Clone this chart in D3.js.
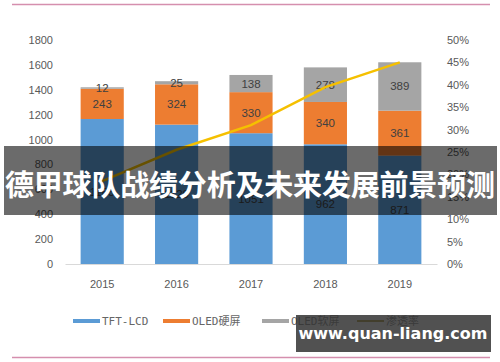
<!DOCTYPE html>
<html>
<head>
<meta charset="utf-8">
<script src="https://cdn.jsdelivr.net/npm/d3@7"></script>
<style>
  body { margin: 0; background: #fff; }
  svg { display: block; font-family: "Liberation Sans", Arial, sans-serif; }
</style>
</head>
<body>
<div id="chart"></div>
<script>
// data
let years = ['2015', '2016', '2017', '2018', '2019'];
let tftLcd = [1165, 1120, 1051, 962, 871];
let oledHard = [243, 324, 330, 340, 361];
let oledSoft = [12, 25, 138, 278, 389];
let rate = [18.5, 25.5, 31, 39.5, 45];
let leftTicks = [0, 200, 400, 600, 800, 1000, 1200, 1400, 1600, 1800];
let rightTicks = [0, 5, 10, 15, 20, 25, 30, 35, 40, 45, 50];
let seriesNames = ['TFT-LCD', 'OLED硬屏', 'OLED软屏', '渗透率'];
let bannerText = '德甲球队战绩分析及未来发展前景预测';
let watermark = 'www.quan-liang.com';

let w = 500;
let h = 362;
let colors = ['#5b9bd5', '#ed7d31', '#a5a5a5'];
let lineColor = '#f5c000';

let svg = d3.select('#chart')
    .append('svg')
    .attr('width', w)
    .attr('height', h);

// pink frame lines
svg.append('line').attr('x1', 12).attr('x2', 490).attr('y1', 4.5).attr('y2', 4.5)
    .attr('stroke', '#d58fae').attr('stroke-width', 1.5);
svg.append('line').attr('x1', 12).attr('x2', 490).attr('y1', 357.5).attr('y2', 357.5)
    .attr('stroke', '#d58fae').attr('stroke-width', 1.5);

let x = d3.scaleBand().domain(years).range([65, 437]).paddingInner(0.42).paddingOuter(0.21);
let y = d3.scaleLinear().domain([0, 1800]).range([264, 40]);
let y2 = d3.scaleLinear().domain([0, 50]).range([264, 40]);

// left axis
let yAxis = d3.axisLeft(y).tickValues(leftTicks).tickSize(0).tickPadding(0).tickFormat(d => d);
svg.append('g').attr('transform', 'translate(53,0)').call(yAxis)
    .call(g => g.select('.domain').remove())
    .selectAll('text').attr('fill', '#595959').attr('font-size', '11px');

// right axis
let yAxis2 = d3.axisRight(y2).tickValues(rightTicks).tickSize(0).tickPadding(0)
    .tickFormat(d => d + '%');
svg.append('g').attr('transform', 'translate(447,0)').call(yAxis2)
    .call(g => g.select('.domain').remove())
    .selectAll('text').attr('fill', '#595959').attr('font-size', '11px');

// x axis
let xAxis = d3.axisBottom(x).tickSize(0).tickPadding(16);
svg.append('g').attr('transform', 'translate(0,264)').call(xAxis)
    .call(g => g.select('.domain').attr('stroke', '#d9d9d9'))
    .selectAll('text').attr('fill', '#595959').attr('font-size', '11px');

// stacked bars
let rows = years.map((yr, i) => ({year: yr, tft: tftLcd[i], hard: oledHard[i], soft: oledSoft[i]}));
let stack = d3.stack().keys(['tft', 'hard', 'soft'])(rows);

let layers = svg.selectAll('.layer')
    .data(stack)
    .enter()
    .append('g')
    .attr('fill', (d, i) => colors[i]);

layers.selectAll('rect')
    .data(d => d)
    .enter()
    .append('rect')
    .attr('x', d => x(d.data.year))
    .attr('width', x.bandwidth())
    .attr('y', d => y(d[1]))
    .attr('height', d => y(d[0]) - y(d[1]));

layers.selectAll('text')
    .data(d => d)
    .enter()
    .append('text')
    .attr('x', d => x(d.data.year) + x.bandwidth() / 2)
    .attr('y', d => (y(d[0]) + y(d[1])) / 2 + 4)
    .attr('text-anchor', 'middle')
    .attr('font-size', '11.5px')
    .attr('fill', '#404040')
    .text(d => d[1] - d[0]);

// penetration line
let line = d3.line()
    .x((d, i) => x(years[i]) + x.bandwidth() / 2)
    .y(d => y2(d));
svg.append('path')
    .datum(rate)
    .attr('d', line)
    .attr('fill', 'none')
    .attr('stroke', lineColor)
    .attr('stroke-width', 2.5);

// legend
let legendX = [73, 163, 262, 357];
let legend = svg.selectAll('.legend')
    .data(seriesNames)
    .enter()
    .append('g')
    .attr('transform', (d, i) => 'translate(' + legendX[i] + ',321)');
legend.append('rect')
    .attr('x', 0)
    .attr('y', (d, i) => i == 3 ? -1 : -2)
    .attr('width', 27)
    .attr('height', (d, i) => i == 3 ? 2 : 4)
    .attr('fill', (d, i) => i == 3 ? '#9c7e0c' : colors[i]);
legend.append('text')
    .attr('x', 29)
    .attr('y', 4)
    .attr('font-family', '"DejaVu Sans Mono", "Noto Sans CJK SC", monospace')
    .attr('font-size', '11px')
    .attr('fill', '#666')
    .text(d => d);

// title banner over the chart
svg.append('rect')
    .attr('x', 4).attr('y', 146).attr('width', 493).attr('height', 69)
    .attr('fill', 'rgba(0,0,0,0.58)');
svg.append('text')
    .attr('x', 250)
    .attr('y', 196)
    .attr('text-anchor', 'middle')
    .attr('font-family', '"Noto Sans CJK SC", sans-serif')
    .attr('font-weight', 'bold')
    .attr('font-size', '29px')
    .attr('textLength', 490)
    .attr('fill', '#fff')
    .text(bannerText);

// watermark
svg.append('rect')
    .attr('x', 296).attr('y', 315).attr('width', 195).attr('height', 37)
    .attr('fill', 'rgba(50,50,50,0.85)');
svg.append('text')
    .attr('x', 393)
    .attr('y', 339)
    .attr('text-anchor', 'middle')
    .attr('font-family', '"DejaVu Sans", sans-serif')
    .attr('font-weight', 'bold')
    .attr('font-size', '16px')
    .attr('fill', '#fff')
    .text(watermark);
</script>
</body>
</html>
